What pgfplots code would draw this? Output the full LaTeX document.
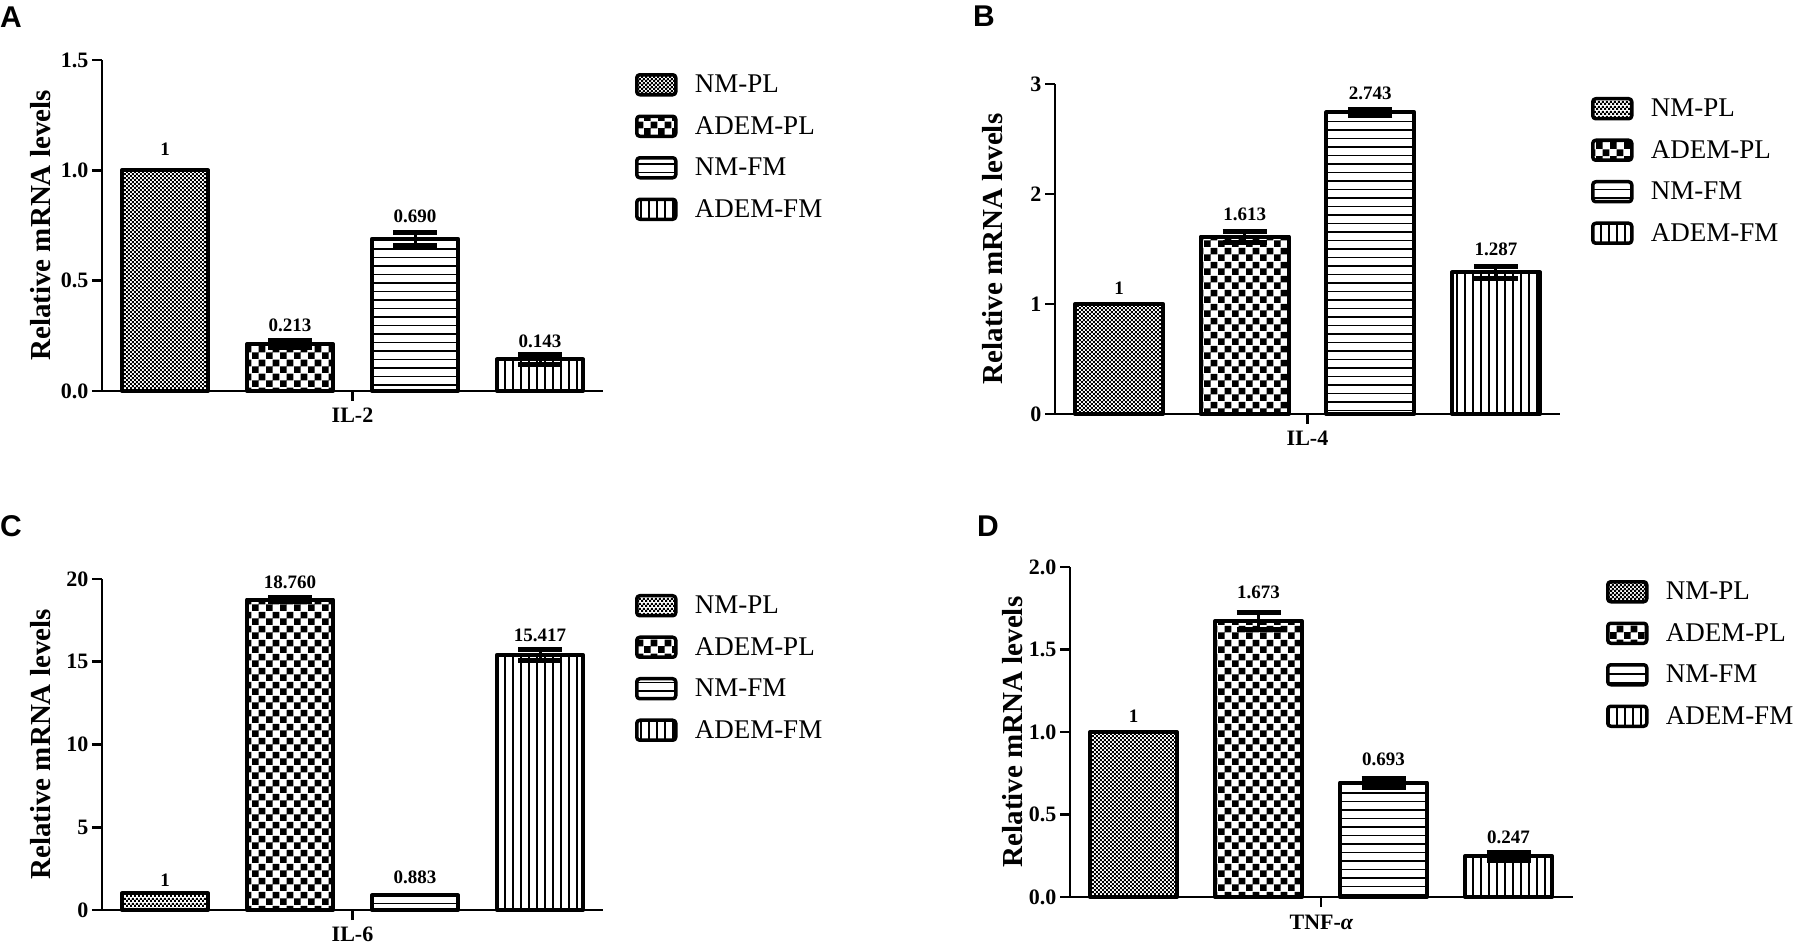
\documentclass[border=0pt]{standalone}
\usepackage{fontspec}
\setmainfont{Liberation Serif}
\newfontfamily\lsans{Liberation Sans}
\usepackage{pgfplots}
\pgfplotsset{compat=1.18}
\usetikzlibrary{patterns}

\pgfdeclarepatternformonly{finecheck}{\pgfpointorigin}{\pgfqpoint{4.4bp}{4.4bp}}{\pgfqpoint{4.4bp}{4.4bp}}{%
  \pgfpathrectangle{\pgfpointorigin}{\pgfqpoint{2.25bp}{2.25bp}}%
  \pgfpathrectangle{\pgfqpoint{2.2bp}{2.2bp}}{\pgfqpoint{2.25bp}{2.25bp}}%
  \pgfusepath{fill}}
\pgfdeclarepatternformonly{bigcheck}{\pgfpointorigin}{\pgfqpoint{14bp}{14bp}}{\pgfqpoint{14bp}{14bp}}{%
  \pgfpathrectangle{\pgfpointorigin}{\pgfqpoint{7.1bp}{7.1bp}}%
  \pgfpathrectangle{\pgfqpoint{7bp}{7bp}}{\pgfqpoint{7.1bp}{7.1bp}}%
  \pgfusepath{fill}}
\pgfdeclarepatternformonly{hlines}{\pgfqpoint{-0.2bp}{0bp}}{\pgfqpoint{10.2bp}{8.5bp}}{\pgfqpoint{10bp}{8.5bp}}{%
  \pgfpathrectangle{\pgfqpoint{-0.2bp}{0bp}}{\pgfqpoint{10.4bp}{1.7bp}}%
  \pgfusepath{fill}}
\pgfdeclarepatternformonly{vlines}{\pgfqpoint{0bp}{-0.2bp}}{\pgfqpoint{8bp}{10.2bp}}{\pgfqpoint{8bp}{10bp}}{%
  \pgfpathrectangle{\pgfqpoint{0bp}{-0.2bp}}{\pgfqpoint{1.7bp}{10.4bp}}%
  \pgfusepath{fill}}

\newcommand\tickfont{\fontsize{22bp}{24bp}\selectfont\bfseries}
\newcommand\valfont{\fontsize{19bp}{21bp}\selectfont\bfseries}
\newcommand\labfont{\fontsize{29bp}{32bp}\selectfont\bfseries}
\newcommand\legfont{\fontsize{27bp}{30bp}\selectfont}
\newcommand\panfont{\lsans\fontsize{30bp}{32bp}\selectfont\bfseries}

\pgfplotsset{
  panel/.style={
    scale only axis, axis lines*=left, clip=false,
    axis line style={-, line width=2.8bp, black},
    tick align=outside, major tick length=10bp,
    tick style={line width=2.8bp, black},
    ymin=0, xtick={2.5}, xticklabels={},
    yticklabel style={font=\tickfont},
    ylabel={Relative mRNA levels},
    ylabel style={font=\labfont, anchor=base},
    xlabel style={font=\tickfont, at={(axis description cs:0.5,0)}, anchor=base, yshift=-32bp},
    legend cell align=left,
    legend style={draw=none, fill=none, inner sep=0pt, outer sep=0pt, anchor=north west,
      font=\legfont, row sep=18bp, column sep=0pt, nodes={inner sep=0pt}},
  },
  bar/.style={ybar, bar shift=0pt, draw=black, line width=4bp, line join=round,
    nodes near coords, point meta=explicit symbolic,
    every node near coord/.append style={font=\valfont, anchor=base, yshift=#1},
    legend image code/.code={\draw[##1, line width=3.5bp, rounded corners=3bp] (0bp,-10bp) rectangle (39bp,10bp); \path[draw=none] (0bp,0bp) (58bp,0bp);}},
  err/.style={error bars/.cd, y dir=both, y explicit,
    error bar style={line width=3bp, black},
    error mark options={rotate=90, line width=5bp, mark size=22bp, black}},
}

\begin{document}
\begin{tikzpicture}
\useasboundingbox (0bp,0bp) rectangle (1795bp,947bp);

% ---------------- A ----------------
\begin{axis}[panel, at={(102bp,556bp)}, anchor=south west, width=501bp, height=331bp,
  xmin=0.496, xmax=4.504, ymax=1.5, ytick={0,0.5,1,1.5}, yticklabels={0.0,0.5,1.0,1.5},
  xlabel={IL-2}, ylabel style={at={(axis description cs:-0.102,0.5)}},
  legend style={at={(axis description cs:1.0639,0.9607)}}, bar width=86bp]
\addplot[bar=15bp, pattern=finecheck] table[row sep=\\, meta=l] {x y l\\ 1 1 1\\};
\addplot[bar=12bp, pattern=bigcheck, err] table[row sep=\\, y error=e, meta=l] {x y e l\\ 2 0.213 0.015 0.213\\};
\addplot[bar=16bp, pattern=hlines, err] table[row sep=\\, y error=e, meta=l] {x y e l\\ 3 0.690 0.030 0.690\\};
\addplot[bar=12bp, pattern=vlines, err] table[row sep=\\, y error=e, meta=l] {x y e l\\ 4 0.143 0.022 0.143\\};
\legend{NM-PL,ADEM-PL,NM-FM,ADEM-FM}
\end{axis}

% ---------------- B ----------------
\begin{axis}[panel, at={(1055bp,533bp)}, anchor=south west, width=505bp, height=330bp,
  xmin=0.49, xmax=4.51, ymax=3, ytick={0,1,2,3}, yticklabels={0,1,2,3},
  xlabel={IL-4}, ylabel style={at={(axis description cs:-0.103,0.5)}},
  legend style={at={(axis description cs:1.0614,0.9606)}}, bar width=88bp]
\addplot[bar=9bp, pattern=finecheck] table[row sep=\\, meta=l] {x y l\\ 1 1 1\\};
\addplot[bar=16bp, pattern=bigcheck, err] table[row sep=\\, y error=e, meta=l] {x y e l\\ 2 1.613 0.050 1.613\\};
\addplot[bar=12.5bp, pattern=hlines, err] table[row sep=\\, y error=e, meta=l] {x y e l\\ 3 2.743 0.025 2.743\\};
\addplot[bar=17bp, pattern=vlines, err] table[row sep=\\, y error=e, meta=l] {x y e l\\ 4 1.287 0.055 1.287\\};
\legend{NM-PL,ADEM-PL,NM-FM,ADEM-FM}
\end{axis}

% ---------------- C ----------------
\begin{axis}[panel, at={(102bp,37bp)}, anchor=south west, width=501bp, height=331bp,
  xmin=0.496, xmax=4.504, ymax=20, ytick={0,5,10,15,20}, yticklabels={0,5,10,15,20},
  xlabel={IL-6}, ylabel style={at={(axis description cs:-0.102,0.5)}},
  legend style={at={(axis description cs:1.0639,0.9547)}}, bar width=86bp]
\addplot[bar=7bp, pattern=finecheck] table[row sep=\\, meta=l] {x y l\\ 1 1 1\\};
\addplot[bar=11.5bp, pattern=bigcheck, err] table[row sep=\\, y error=e, meta=l] {x y e l\\ 2 18.760 0.12 18.760\\};
\addplot[bar=12bp, pattern=hlines] table[row sep=\\, meta=l] {x y l\\ 3 0.883 0.883\\};
\addplot[bar=13bp, pattern=vlines, err] table[row sep=\\, y error=e, meta=l] {x y e l\\ 4 15.417 0.35 15.417\\};
\legend{NM-PL,ADEM-PL,NM-FM,ADEM-FM}
\end{axis}

% ---------------- D ----------------
\begin{axis}[panel, at={(1070bp,50bp)}, anchor=south west, width=503bp, height=330bp,
  xmin=0.492, xmax=4.516, ymax=2, ytick={0,0.5,1,1.5,2}, yticklabels={0.0,0.5,1.0,1.5,2.0},
  xlabel={TNF-\textit{α}}, ylabel style={at={(axis description cs:-0.0954,0.5)}},
  legend style={at={(axis description cs:1.0656,0.9606)}}, bar width=87bp]
\addplot[bar=9bp, pattern=finecheck] table[row sep=\\, meta=l] {x y l\\ 1 1 1\\};
\addplot[bar=22bp, pattern=bigcheck, err] table[row sep=\\, y error=e, meta=l] {x y e l\\ 2 1.673 0.050 1.673\\};
\addplot[bar=17bp, pattern=hlines, err] table[row sep=\\, y error=e, meta=l] {x y e l\\ 3 0.693 0.028 0.693\\};
\addplot[bar=13bp, pattern=vlines, err] table[row sep=\\, y error=e, meta=l] {x y e l\\ 4 0.247 0.025 0.247\\};
\legend{NM-PL,ADEM-PL,NM-FM,ADEM-FM}
\end{axis}

\node[font=\panfont, anchor=base west, inner sep=0pt] at (0bp,919bp) {A};
\node[font=\panfont, anchor=base west, inner sep=0pt] at (973bp,920bp) {B};
\node[font=\panfont, anchor=base west, inner sep=0pt] at (0bp,410bp) {C};
\node[font=\panfont, anchor=base west, inner sep=0pt] at (977bp,410bp) {D};
\end{tikzpicture}
\end{document}
